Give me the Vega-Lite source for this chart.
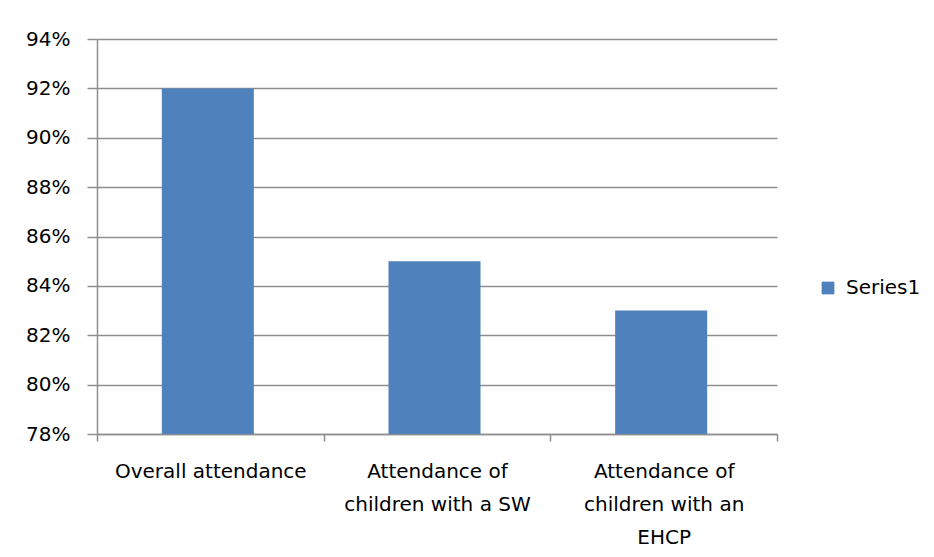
{
  "$schema": "https://vega.github.io/schema/vega-lite/v6.json",
  "autosize": {"type": "none"},
  "width": 680,
  "height": 395,
  "padding": {"left": 97, "top": 39, "right": 157, "bottom": 123},
  "background": "white",
  "config": {
    "view": {"stroke": null},
    "font": "DejaVu Sans"
  },
  "data": {
    "values": [
      {"category": "Overall attendance", "value": 0.92, "series": "Series1"},
      {"category": "Attendance of children with a SW", "value": 0.85, "series": "Series1"},
      {"category": "Attendance of children with an EHCP", "value": 0.83, "series": "Series1"}
    ]
  },
  "mark": {"type": "bar", "clip": true, "width": {"band": 0.406}, "xOffset": -2.5},
  "encoding": {
    "x": {
      "field": "category",
      "type": "nominal",
      "sort": null,
      "scale": {"paddingInner": 0, "paddingOuter": 0},
      "axis": {
        "title": null,
        "labelAngle": 0,
        "labelFontSize": 20,
        "labelColor": "#000000",
        "labelPadding": 20,
        "labelLineHeight": 33,
        "labelLimit": 300,
        "tickBand": "extent",
        "tickSize": 7,
        "tickColor": "#8e8e8e",
        "domainColor": "#8e8e8e",
        "domainWidth": 1.5,
        "tickWidth": 1.5,
        "labelExpr": "datum.extra ? '' : datum.value == 'Overall attendance' ? 'Overall attendance' : datum.value == 'Attendance of children with a SW' ? ['Attendance of', 'children with a SW'] : ['Attendance of', 'children with an', 'EHCP']"
      }
    },
    "y": {
      "field": "value",
      "type": "quantitative",
      "scale": {"domain": [0.78, 0.94], "zero": false, "nice": false},
      "axis": {
        "title": null,
        "format": ".0%",
        "values": [0.78, 0.80, 0.82, 0.84, 0.86, 0.88, 0.90, 0.92, 0.94],
        "labelFontSize": 20,
        "labelColor": "#000000",
        "labelPadding": 17,
        "tickSize": 10,
        "tickColor": "#8e8e8e",
        "tickWidth": 1.5,
        "domainColor": "#8e8e8e",
        "domainWidth": 1.5,
        "grid": true,
        "gridColor": "#8e8e8e",
        "gridWidth": 1.5
      }
    },
    "color": {
      "field": "series",
      "type": "nominal",
      "scale": {"range": ["#4F81BD"]},
      "legend": {
        "title": null,
        "orient": "none",
        "legendX": 721,
        "legendY": 239,
        "symbolType": "square",
        "symbolSize": 160,
        "labelFontSize": 20,
        "labelColor": "#000000",
        "labelOffset": 8
      }
    }
  }
}
